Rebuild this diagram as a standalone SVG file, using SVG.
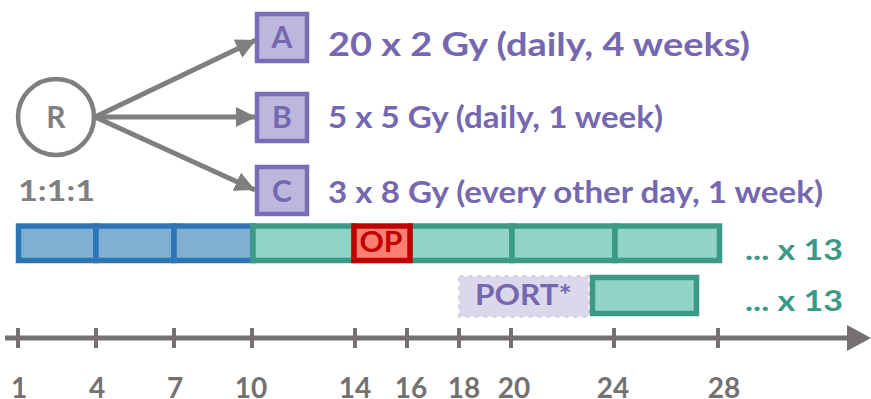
<svg xmlns="http://www.w3.org/2000/svg" width="871" height="399" viewBox="0 0 871 399">
  <style>
    text { font-family: Lato, "Open Sans", "Liberation Sans", sans-serif; font-weight: bold; }
    .arm { fill: #bdb7dd; stroke: #7a6db5; stroke-width: 4.5; }
    .armlbl { fill: #7568b0; font-size: 30px; text-anchor: middle; }
    .sched { fill: #7568b0; font-size: 31px; }
    .link { stroke: #7f7f7f; stroke-width: 5; fill: none; }
    .blue { fill: #7fb0d4; stroke: #2e75b6; stroke-width: 5.5; }
    .teal { fill: #8fd4c5; stroke: #3a9a86; stroke-width: 5.5; }
    .op { fill: #fb8072; stroke: #c00000; stroke-width: 5.5; }
    .rep { fill: #3a9a86; font-size: 29px; }
    .tick { stroke: #767171; stroke-width: 4; }
    .day { fill: #767171; font-size: 28px; text-anchor: middle; }
  </style>
  <defs>
    <marker id="head" markerUnits="userSpaceOnUse" markerWidth="22" markerHeight="20" refX="20" refY="10" orient="auto">
      <path d="M0,0 L20,10 L0,20 Z" fill="#7f7f7f"/>
    </marker>
  </defs>

  <!-- randomisation node -->
  <g id="node-R">
    <circle cx="56" cy="117" r="38" fill="#ffffff" stroke="#7f7f7f" stroke-width="4.5"/>
    <text x="56" y="128" font-size="30" fill="#7f7f7f" text-anchor="middle">R</text>
    <text x="18" y="201" font-size="29" fill="#7f7f7f" textLength="77" lengthAdjust="spacingAndGlyphs">1:1:1</text>
  </g>

  <!-- treatment arms -->
  <g id="node-A">
    <rect class="arm" x="257" y="14" width="50" height="47"/>
    <text class="armlbl" x="282" y="48">A</text>
    <text x="328" y="56" font-size="33" fill="#7568b0" font-family="'Liberation Sans', Arial, sans-serif" textLength="422" lengthAdjust="spacingAndGlyphs">20 x 2 Gy (daily, 4 weeks)</text>
  </g>
  <g id="node-B">
    <rect class="arm" x="257" y="94" width="50" height="47"/>
    <text class="armlbl" x="282" y="128">B</text>
    <text class="sched" x="328" y="128" textLength="335" lengthAdjust="spacingAndGlyphs">5 x 5 Gy (daily, 1 week)</text>
  </g>
  <g id="node-C">
    <rect class="arm" x="257" y="167" width="50" height="47"/>
    <text class="armlbl" x="282" y="202">C</text>
    <text class="sched" x="328" y="203" textLength="495" lengthAdjust="spacingAndGlyphs">3 x 8 Gy (every other day, 1 week)</text>
  </g>

  <!-- allocation arrows -->
  <g id="connectors">
    <line class="link" x1="95" y1="117" x2="256" y2="40" marker-end="url(#head)"/>
    <line class="link" x1="95" y1="117" x2="256" y2="117" marker-end="url(#head)"/>
    <line class="link" x1="95" y1="117" x2="255" y2="190" marker-end="url(#head)"/>
  </g>

  <!-- weekly schedule, row 1 -->
  <g id="node-schedule">
    <rect class="blue" x="18.5" y="226" width="77.5" height="34.5"/>
    <rect class="blue" x="96" y="226" width="78" height="34.5"/>
    <rect class="blue" x="174" y="226" width="79" height="34.5"/>
    <rect class="teal" x="253" y="226" width="101" height="34.5"/>
    <rect class="teal" x="410" y="226" width="102" height="34.5"/>
    <rect class="teal" x="512" y="226" width="103" height="34.5"/>
    <rect class="teal" x="615" y="226" width="104.5" height="34.5"/>
    <rect class="op" x="354" y="226" width="56" height="34.5"/>
    <text x="381" y="252" font-size="28" fill="#c00000" text-anchor="middle" textLength="43" lengthAdjust="spacingAndGlyphs">OP</text>
    <text class="rep" x="745" y="260" textLength="98" lengthAdjust="spacingAndGlyphs">... x 13</text>
  </g>

  <!-- postoperative row -->
  <g id="node-port">
    <rect x="459.5" y="276.5" width="129" height="40" fill="#dcd8ec" stroke="#d6d1e9" stroke-width="3" stroke-dasharray="4 5"/>
    <text x="475" y="305" font-size="29" fill="#7568b0" textLength="97" lengthAdjust="spacingAndGlyphs">PORT*</text>
    <rect class="teal" x="592.5" y="277.5" width="104" height="36"/>
    <text class="rep" x="745" y="311" textLength="98" lengthAdjust="spacingAndGlyphs">... x 13</text>
  </g>

  <!-- time axis (days) -->
  <g id="node-axis">
    <line x1="5" y1="338" x2="852" y2="338" stroke="#767171" stroke-width="5"/>
    <path d="M847,325 L871,338 L847,351 Z" fill="#767171"/>
    <line class="tick" x1="18" y1="328" x2="18" y2="348"/>
    <line class="tick" x1="96" y1="328" x2="96" y2="348"/>
    <line class="tick" x1="174" y1="328" x2="174" y2="348"/>
    <line class="tick" x1="252" y1="328" x2="252" y2="348"/>
    <line class="tick" x1="355" y1="328" x2="355" y2="348"/>
    <line class="tick" x1="407" y1="328" x2="407" y2="348"/>
    <line class="tick" x1="459" y1="328" x2="459" y2="348"/>
    <line class="tick" x1="511" y1="328" x2="511" y2="348"/>
    <line class="tick" x1="614" y1="328" x2="614" y2="348"/>
    <line class="tick" x1="718" y1="328" x2="718" y2="348"/>
    <text class="day" x="19" y="398">1</text>
    <text class="day" x="97" y="398">4</text>
    <text class="day" x="175" y="398">7</text>
    <text class="day" x="251" y="398">10</text>
    <text class="day" x="355" y="398">14</text>
    <text class="day" x="411" y="398">16</text>
    <text class="day" x="464" y="398">18</text>
    <text class="day" x="514" y="398">20</text>
    <text class="day" x="613" y="398">24</text>
    <text class="day" x="724" y="398">28</text>
  </g>
</svg>
